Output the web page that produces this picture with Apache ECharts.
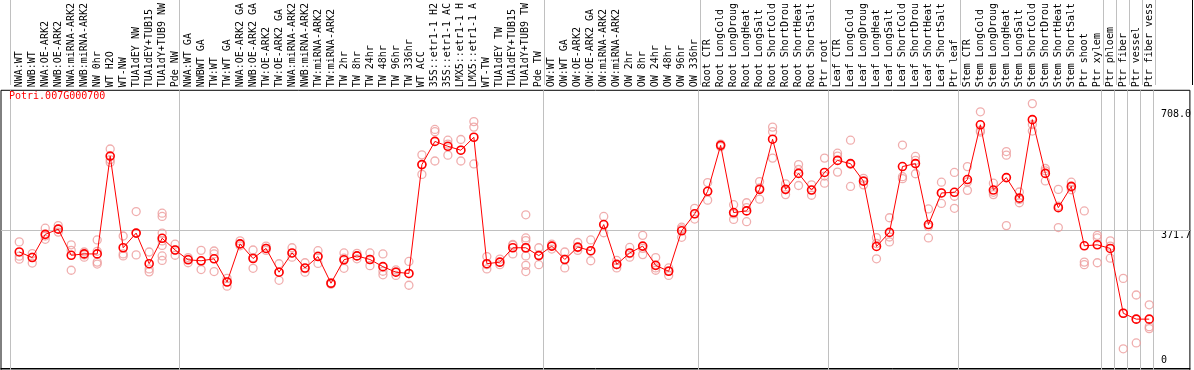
<!DOCTYPE html>
<html><head><meta charset="utf-8">
<script src="https://cdn.jsdelivr.net/npm/echarts@6/dist/echarts.min.js"></script>
<style>html,body{margin:0;padding:0;background:#fff}#c{width:1194px;height:370px}</style>
</head><body><div id="c"></div><script>
const geneName = 'Potri.007G000700';

const categories = [
  'NWA:WT','NWB:WT','NWA:OE-ARK2','NWB:OE-ARK2','NWA:miRNA-ARK2','NWB:miRNA-ARK2','NW 0hr','WT H2O','WT-NW','TUA1dEY NW','TUA1dEY+TUB15','TUA1dY+TUB9 NW','Pde NW',
  'NWA:WT GA','NWBWT GA','TW:WT','TW:WT GA','NWA:OE-ARK2 GA','NWB:OE-ARK2 GA','TW:OE-ARK2','TW:OE-ARK2 GA','NWA:miRNA-ARK2','NWB:miRNA-ARK2','TW:miRNA-ARK2','TW:miRNA-ARK2',
  'TW 2hr','TW 8hr','TW 24hr','TW 48hr','TW 96hr','TW 336hr','WT ACC','35S::etr1-1 H2','35S::etr1-1 AC','LMX5::etr1-1 H','LMX5::etr1-1 A','WT-TW','TUA1dEY TW','TUA1dEY+TUB15','TUA1dY+TUB9 TW','Pde TW',
  'OW:WT','OW:WT GA','OW:OE-ARK2','OW:OE-ARK2 GA','OW:miRNA-ARK2','OW:miRNA-ARK2','OW 2hr','OW 8hr','OW 24hr','OW 48hr','OW 96hr','OW 336hr',
  'Root CTR','Root LongCold','Root LongDroug','Root LongHeat','Root LongSalt','Root ShortCold','Root ShortDrou','Root ShortHeat','Root ShortSalt','Ptr root',
  'Leaf CTR','Leaf LongCold','Leaf LongDroug','Leaf LongHeat','Leaf LongSalt','Leaf ShortCold','Leaf ShortDrou','Leaf ShortHeat','Leaf ShortSalt','Ptr leaf',
  'Stem CTR','Stem LongCold','Stem LongDroug','Stem LongHeat','Stem LongSalt','Stem ShortCold','Stem ShortDrou','Stem ShortHeat','Stem ShortSalt','Ptr shoot','Ptr xylem',
  'Ptr phloem','Ptr fiber','Ptr vessel','Ptr fiber vess'
];

// first category index of each sample group
const groupFirst = [0, 13, 41, 53, 63, 73, 84, 85, 86, 87];

const means = [
  313.7, 298.9, 360.5, 374.3, 304.9, 308.5, 308.5, 568.5, 324.9, 363.9, 282.5, 350.1, 318.9,
  292.9, 290.3, 295.5, 233.9, 335.3, 296.3, 323.1, 259.9, 311.1, 271.1, 301.5, 230.6,
  292.9, 303.3, 293.7, 274.7, 259.9, 256.6, 545.9, 607.5, 594.5, 584.1, 618.6, 282.5, 286.7, 324.9, 324.9, 304.1,
  329.3, 293.7, 326.7, 317.1, 386.5, 280.7, 311.1, 329.3, 278.1, 262.5, 369.9, 415.1,
  474.9, 597.1, 418.5, 422.9, 480.1, 613.4, 480.1, 522.5, 478.3, 525.1,
  557.0, 548.5, 501.7, 328.3, 365.7, 540.7, 548.5, 386.5, 470.5, 472.3,
  506.1, 651.7, 478.3, 511.3, 456.7, 665.4, 522.5, 431.5, 487.9, 330.1, 332.7,
  323.1, 150.8, 135.2, 135.2
];

const replicates = [
  [340.5, 302.4, 294.6], [309.3, 299.8, 284.2], [376.9, 356.1, 347.4], [383.8, 375.2, 366.5],
  [332.7, 318.0, 265.1], [313.6, 305.9, 299.8], [345.7, 315.4, 286.8, 281.6], [587.4, 558.9, 551.9],
  [356.1, 308.4, 303.2], [421.1, 363.9, 305.9], [313.6, 268.6, 260.8],
  [416.8, 408.1, 363.9, 343.1, 331.0, 303.2, 291.1], [334.4, 318.9, 305.0],
  [298.9, 294.6, 285.0], [318.0, 288.5, 266.9], [316.3, 308.4, 261.7], [243.5, 234.8, 222.7],
  [343.1, 335.3, 330.1], [318.9, 298.9, 270.3], [329.2, 323.2, 318.0], [282.4, 259.9, 238.3],
  [324.9, 310.2, 299.8], [285.0, 269.5, 259.9], [317.1, 303.2, 283.3], [232.2, 230.5, 227.9],
  [311.1, 297.2, 270.3], [310.2, 303.2, 295.5], [311.1, 293.7, 277.3], [308.4, 262.5, 253.0],
  [266.0, 261.7, 251.3], [288.5, 255.6, 225.3], [571.8, 545.9, 519.9], [639.4, 633.4, 555.4],
  [610.8, 600.4, 571.0], [612.6, 584.0, 555.4], [660.2, 645.5, 547.6], [301.5, 279.8, 268.6],
  [294.6, 285.9, 279.8], [333.6, 331.8, 308.4], [412.4, 350.9, 344.0, 323.2, 303.2, 278.1, 261.7],
  [324.9, 305.9, 279.8],
  [334.4, 329.2, 321.5], [313.6, 294.6, 271.2], [338.8, 324.9, 318.0], [345.7, 315.4, 290.3],
  [408.1, 386.4, 364.8], [291.1, 279.8, 271.2], [325.8, 309.3, 299.8], [357.8, 323.2, 306.7],
  [298.9, 271.2, 265.1], [271.2, 264.3, 251.3], [379.5, 375.2, 352.6], [429.7, 415.0, 401.2],
  [498.2, 474.8, 451.4], [600.4, 597.0, 593.5], [439.3, 415.0, 400.3], [444.5, 431.5, 394.2],
  [500.8, 484.3, 454.0], [645.5, 633.4, 563.2], [494.7, 479.1, 466.1], [545.9, 532.9, 490.4],
  [492.1, 478.3, 464.4], [563.2, 515.5, 496.5],
  [576.2, 568.4, 525.9], [610.8, 546.7, 487.8], [509.5, 503.4, 492.1], [351.8, 336.2, 295.5],
  [404.6, 353.5, 340.5], [597.8, 513.8, 508.6], [567.5, 557.1, 521.6], [428.0, 381.2, 350.9],
  [499.1, 470.5, 442.7], [525.0, 461.8, 429.7],
  [540.6, 500.0, 477.4], [686.2, 636.8, 632.5], [496.5, 472.2, 466.1], [580.5, 571.0, 383.8],
  [473.1, 453.2, 444.5], [708.0, 652.4, 635.1], [535.5, 529.4, 502.5], [480.0, 435.8, 378.6],
  [499.1, 485.2, 479.1], [422.8, 286.8, 279.8], [357.8, 350.9, 285.0],
  [343.1, 329.2, 297.2], [243.5, 150.8, 56.3], [199.3, 135.2, 71.9], [173.3, 115.2, 110.0]
];

const yMax = 743.4;
const midLabel = 371.7;
const maxLabel = 708.0;
const zeroLabel = 0;

// ---- layout / style ----
const FONT = 'DejaVu Sans Mono';
const X_MIN = -1.4065, X_MAX = 90.13;
const GRID_COLOR = '#c0c0c0';
const boundaries = groupFirst.map(i => i - 0.69).concat([categories.length - 1 + 0.31]);
const vLines = boundaries.map(x => ({ xAxis: x }));

const meanPoints = means.map((v, i) => [i, v]);
const repPoints = [];
replicates.forEach((arr, i) => arr.forEach(v => repPoints.push([i, v])));

const yAxisBase = (vals, extra) => Object.assign({
  gridIndex: 1, type: 'value', min: 0, max: yMax, position: 'right',
  axisLine: { show: false }, axisTick: { show: false }, splitLine: { show: false },
  axisLabel: Object.assign({
    customValues: vals, inside: true, align: 'left', margin: 29,
    fontSize: 10, fontFamily: FONT, color: '#000',
    formatter: v => (v === 0 ? '0' : v.toFixed(1))
  }, extra)
});

const chart = echarts.init(document.getElementById('c'), null, { renderer: 'canvas' });
chart.setOption({
  animation: false,
  backgroundColor: '#fff',
  title: {
    text: geneName, left: 9, top: 91, padding: 0,
    textStyle: { color: '#ff0000', fontSize: 10, fontFamily: FONT, fontWeight: 'normal' }
  },
  grid: [
    { left: 1, right: 2, top: 0, height: 85, show: false },
    { left: 1, right: 2, top: 85, bottom: -1, show: true, borderColor: '#000', borderWidth: 1, backgroundColor: 'transparent' }
  ],
  xAxis: [
    { gridIndex: 0, type: 'value', min: X_MIN, max: X_MAX, show: false },
    {
      gridIndex: 1, type: 'value', min: X_MIN, max: X_MAX, position: 'top',
      axisLine: { show: false }, axisTick: { show: false }, splitLine: { show: false },
      axisLabel: {
        customValues: categories.map((_, i) => i),
        formatter: v => categories[Math.round(v)] || '',
        rotate: 90, margin: 3, fontSize: 10, fontFamily: FONT, color: '#000'
      }
    },
    {
      gridIndex: 1, type: 'value', min: X_MIN, max: X_MAX, position: 'bottom', offset: -2,
      axisLine: { show: true, lineStyle: { color: '#000', width: 1 } },
      axisTick: { show: false }, axisLabel: { show: false }, splitLine: { show: false }
    }
  ],
  yAxis: [
    { gridIndex: 0, type: 'value', min: 0, max: 1, show: false },
    yAxisBase([midLabel], { verticalAlign: 'top' }),
    yAxisBase([maxLabel], { verticalAlign: 'top', padding: [6, 0, 0, 0] }),
    yAxisBase([zeroLabel], { verticalAlign: 'bottom', padding: [0, 0, 5, 0] })
  ],
  series: [
    {
      type: 'line', xAxisIndex: 0, yAxisIndex: 0, data: [[0, 0.5]], symbol: 'none',
      lineStyle: { width: 0 }, silent: true,
      markLine: {
        silent: true, symbol: ['none', 'none'], label: { show: false }, z: 1,
        lineStyle: { color: GRID_COLOR, type: 'solid', width: 1 },
        emphasis: { disabled: true },
        data: vLines.concat([
          { xAxis: X_MIN, lineStyle: { color: '#000' } },
          { xAxis: X_MAX, lineStyle: { color: '#000' } }
        ])
      }
    },
    {
      type: 'scatter', xAxisIndex: 1, yAxisIndex: 1, data: repPoints,
      symbol: 'circle', symbolSize: 8, silent: true,
      itemStyle: { color: 'rgba(0,0,0,0)', borderColor: '#ec9a9a', borderWidth: 1.3 },
      markLine: {
        silent: true, symbol: ['none', 'none'], label: { show: false }, z: 1,
        lineStyle: { color: GRID_COLOR, type: 'solid', width: 1 },
        emphasis: { disabled: true },
        data: vLines.concat([{ yAxis: midLabel }])
      }
    },
    {
      type: 'line', xAxisIndex: 1, yAxisIndex: 1, data: meanPoints,
      symbol: 'circle', symbolSize: 8, showSymbol: true, silent: true,
      lineStyle: { color: '#ff0000', width: 1 },
      itemStyle: { color: 'rgba(0,0,0,0)', borderColor: '#ff0000', borderWidth: 1.6 }
    }
  ]
});
</script></body></html>
